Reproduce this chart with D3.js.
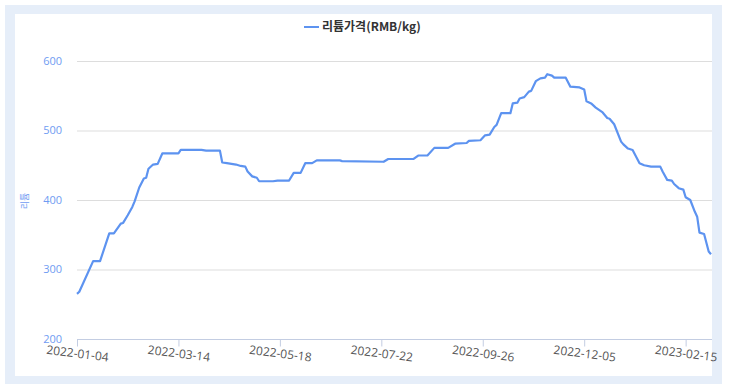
<!DOCTYPE html>
<html>
<head>
<meta charset="utf-8">
<script src="https://cdn.jsdelivr.net/npm/d3@7"></script>
<style>
  body { margin: 0; background: #fff; }
  svg { display: block; }
</style>
</head>
<body>
<div id="chart"></div>
<script>
// x axis is a category index (one per trading day), labels every 44 points
const pointCount = 276;
const tickStep = 44;
const tickLabels = ["2022-01-04", "2022-03-14", "2022-05-18", "2022-07-22", "2022-09-26", "2022-12-05", "2023-02-15"];

// day index and lithium price (RMB/kg) at each turn of the line
const dayIndex = [0, 1, 7, 10, 14, 16, 19, 20, 22, 24, 25, 27, 29, 30, 31, 33, 35, 37, 44, 45,
  54, 56, 62, 63, 65, 67, 69, 71, 73, 74, 76, 78, 79, 85, 87, 92, 94, 97, 99, 102,
  104, 114, 115, 133, 135, 146, 148, 152, 155, 161, 164, 169, 170, 175, 177, 179, 181, 182, 184, 188,
  189, 191, 192, 194, 196, 197, 199, 201, 203, 204, 206, 207, 212, 214, 218, 220, 221, 223, 225, 228,
  230, 231, 233, 236, 237, 239, 241, 244, 246, 249, 253, 254, 256, 258, 259, 261, 263, 264, 266, 268,
  269, 270, 272, 274, 275];
const price = [265, 268, 312, 312, 352, 352, 366, 367, 378, 390, 398, 418, 431, 432, 445, 451, 452, 467, 467, 472,
  472, 471, 471, 454, 453, 452, 451, 449, 448, 441, 434, 432, 427, 427, 428, 428, 439, 439, 453, 453,
  457, 457, 456, 455, 459, 459, 464, 464, 475, 475, 481, 482, 485, 486, 493, 494, 505, 508, 525, 525,
  539, 540, 546, 548, 556, 557, 571, 575, 576, 581, 579, 576, 576, 563, 562, 559, 542, 539, 533, 526,
  518, 517, 509, 484, 480, 474, 472, 453, 450, 448, 448, 441, 429, 428, 423, 417, 415, 404, 400, 383,
  376, 353, 351, 326, 322];
const yTicks = [200, 300, 400, 500, 600];

const width = 730, height = 392;
const margin = {top: 61, right: 19, bottom: 53, left: 77};

const svg = d3.select("#chart").append("svg")
    .attr("width", width)
    .attr("height", height);

// frame and white panel
svg.append("rect")
    .attr("x", 5).attr("y", 5)
    .attr("width", 717).attr("height", 379)
    .attr("fill", "#e6eef9");
svg.append("rect")
    .attr("x", 15).attr("y", 14)
    .attr("width", 697).attr("height", 362)
    .attr("fill", "#fff");

const x = d3.scaleLinear()
    .domain([0, pointCount - 1])
    .range([margin.left, width - margin.right]);

const y = d3.scaleLinear()
    .domain([200, 600])
    .range([height - margin.bottom, margin.top]);

// gridlines
svg.append("g")
    .selectAll("line")
    .data(yTicks.slice(1))
    .enter().append("line")
    .attr("x1", x(0))
    .attr("x2", x(pointCount - 1) + 1)
    .attr("y1", d => y(d) + 0.5)
    .attr("y2", d => y(d) + 0.5)
    .attr("stroke", "#dddddd")
    .attr("stroke-width", 1);

// y tick labels
svg.append("g")
    .selectAll("text")
    .data(yTicks)
    .enter().append("text")
    .attr("x", 62)
    .attr("y", d => y(d))
    .attr("dy", "0.35em")
    .attr("text-anchor", "end")
    .attr("fill", "#6f9cf2")
    .style("font", "11px 'Open Sans', sans-serif")
    .text(d => d);

// y axis title
svg.append("text")
    .attr("transform", "translate(25,201) rotate(-90)")
    .attr("text-anchor", "middle")
    .attr("dy", "0.35em")
    .attr("fill", "#6f9cf2")
    .style("font", "9px 'Noto Sans CJK KR', sans-serif")
    .text("리튬");

// x axis
const tickValues = tickLabels.map((d, i) => i * tickStep);
const xAxis = svg.append("g")
    .attr("transform", `translate(0,${y(200) + 0.5})`)
    .call(d3.axisBottom(x)
        .tickValues(tickValues)
        .tickSize(7)
        .tickSizeOuter(0)
        .tickFormat((d, i) => tickLabels[i]));
xAxis.select(".domain")
    .attr("stroke", "#c3cde2")
    .attr("d", `M${x(0)},0H${x(pointCount - 1) + 1}`);
xAxis.selectAll(".tick line").attr("stroke", "#c3cde2");
xAxis.selectAll(".tick text")
    .attr("y", 0)
    .attr("dy", "0.35em")
    .attr("transform", "translate(0,14) rotate(7)")
    .attr("text-anchor", "middle")
    .attr("fill", "#555")
    .style("font", "12px 'Open Sans', sans-serif");

// price line
const series = dayIndex.map((d, i) => ({idx: d, value: price[i]}));
svg.append("path")
    .datum(series)
    .attr("fill", "none")
    .attr("stroke", "#5d93f0")
    .attr("stroke-width", 2.2)
    .attr("stroke-linejoin", "round")
    .attr("d", d3.line()
        .x(d => x(d.idx))
        .y(d => y(d.value)));

// legend
svg.append("line")
    .attr("x1", 304).attr("x2", 319)
    .attr("y1", 27).attr("y2", 27)
    .attr("stroke", "#5d93f0")
    .attr("stroke-width", 2);
svg.append("text")
    .attr("x", 322)
    .attr("y", 27)
    .attr("dy", "0.35em")
    .attr("fill", "#333")
    .style("font", "600 12px 'Noto Sans CJK KR', sans-serif")
    .text("리튬가격(RMB/kg)");
</script>
</body>
</html>
